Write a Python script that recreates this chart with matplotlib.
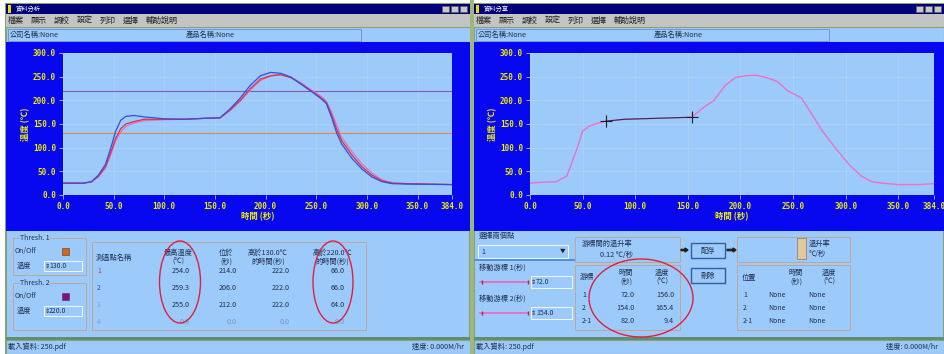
import matplotlib
matplotlib.use("Agg")
import matplotlib.pyplot as plt
from matplotlib.patches import Rectangle, Ellipse, FancyArrow

plt.rcParams['font.family'] = ['Noto Sans CJK TC', 'DejaVu Sans']

# ---------------- data ----------------
t1 = [0, 20, 28, 35, 42, 48, 52, 57, 62, 70, 80, 100, 120, 140, 155, 165, 175, 185,
      195, 205, 215, 225, 235, 245, 255, 260, 265, 270, 275, 285, 295, 305, 315, 325, 340, 384]
red = [25, 25, 28, 40, 60, 95, 120, 140, 150, 155, 160, 160, 160, 162, 163, 180, 200, 225,
       245, 252, 254, 248, 235, 220, 205, 195, 170, 140, 115, 85, 60, 42, 30, 25, 24, 22]
blue = [25, 25, 28, 42, 65, 105, 135, 158, 166, 168, 165, 161, 160, 162, 163, 182, 205, 232,
        252, 259, 257, 249, 234, 219, 203, 193, 165, 132, 108, 78, 55, 38, 28, 24, 23, 22]
pink = [25, 25, 27, 38, 57, 90, 115, 133, 145, 152, 157, 159, 160, 162, 163, 178, 198, 222,
        242, 251, 255, 249, 237, 222, 208, 198, 176, 148, 122, 92, 66, 46, 32, 26, 24, 22]
thresh_low = 130.0
thresh_high = 220.0

t2 = [0, 12, 25, 35, 45, 50, 56, 62, 72, 90, 120, 150, 155, 165, 175, 185, 195, 205, 215,
      225, 235, 245, 258, 268, 278, 290, 303, 315, 325, 335, 350, 370, 384]
curve2 = [25, 27, 28, 40, 100, 135, 145, 150, 156, 160, 162, 164, 167, 185, 200, 230, 248,
          252, 253, 248, 240, 220, 205, 170, 135, 100, 65, 40, 28, 25, 22, 22, 24]
cursor_t = [72.0, 154.0]
cursor_v = [156.0, 165.4]

xticks = [0, 50, 100, 150, 200, 250, 300, 350, 384]
xtick_labels = ["0.0", "50.0", "100.0", "150.0", "200.0", "250.0", "300.0", "350.0", "384.0"]
yticks = [0, 50, 100, 150, 200, 250, 300]
ytick_labels = ["0.0", "50.0", "100.0", "150.0", "200.0", "250.0", "300.0"]

table_header = ["測溫點名稱", "最高溫度\n(℃)", "位於\n(秒)", "高於130.0℃\n的時間(秒)", "高於220.0℃\n的時間(秒)"]
row_ids = ["1", "2", "3", "4"]
max_temp = ["254.0", "259.3", "255.0", "0.0"]
max_at = ["214.0", "206.0", "212.0", "0.0"]
above130 = ["222.0", "222.0", "222.0", "0.0"]
above220 = ["66.0", "66.0", "64.0", "0.0"]

cur_rows = ["1", "2", "2-1"]
cur_time = ["72.0", "154.0", "82.0"]
cur_temp = ["156.0", "165.4", "9.4"]

menu_items = ["檔案", "顯示", "調校", "設定", "列印", "選擇", "輔助說明"]

# ---------------- colours ----------------
NAVY = "#00007a"
BLUE = "#0808f0"
LIGHT = "#9ccafa"
GREY = "#c4c4c4"
BORDER = "#8aa27a"
YEL = "#f0f000"
TXT = "#203050"

fig = plt.figure(figsize=(9.44, 3.54), dpi=100)
bg = fig.add_axes([0, 0, 1, 1])
bg.set_xlim(0, 944)
bg.set_ylim(354, 0)
bg.axis("off")


def rect(x0, y0, x1, y1, fc="none", ec="none", lw=0.8, z=1):
    bg.add_patch(Rectangle((x0, y0), x1 - x0, y1 - y0, facecolor=fc, edgecolor=ec, lw=lw, zorder=z))


def txt(x, y, s, size=5.5, color=TXT, ha="left", va="center", **kw):
    bg.text(x, y, s, fontsize=size, color=color, ha=ha, va=va, zorder=5, **kw)


rect(0, 0, 944, 354, fc="white")

for ox, title, x1 in [(6, "資料分析", 470), (474, "資料分享", 944)]:
    rect(ox, 4, x1, 354, fc=LIGHT, ec=BORDER, lw=1.5)
    # title bar
    rect(ox, 4, x1, 14, fc=NAVY)
    rect(ox + 2, 5, ox + 5, 13, fc="#f0e000")
    txt(ox + 10, 9, title, size=4.5, color="white")
    for i in range(3):
        rect(x1 - 28 + i * 9, 6, x1 - 21 + i * 9, 12, fc="#c8c8c8", ec="#606060", lw=0.5)
    # menu bar
    rect(ox, 14, x1, 27, fc=GREY)
    mx = ox + 2
    for m in menu_items:
        txt(mx, 20.5, m, size=5.8, color="#202020")
        mx += 23 if len(m) == 2 else 40
    # company row
    rect(ox, 27, x1, 42, fc=LIGHT, ec=BORDER, lw=0.8)
    rect(ox + 2, 29, ox + 355, 41, fc="none", ec="#7090c0", lw=0.6)
    txt(ox + 4, 35, "公司名稱:None", size=5.2)
    txt(ox + 180, 35, "產品名稱:None", size=5.2)
    # blue chart area
    rect(ox, 42, x1, 231, fc=BLUE)
    # status bar
    rect(ox, 337, x1, 340, fc="#5f8f6f")
    rect(ox, 340, x1, 354, fc=LIGHT, ec=BORDER, lw=0.8)
    txt(ox + 2, 347, "載入資料: 250.pdf", size=5.2)
    txt(x1 - 6, 347, "速度: 0.000M/hr", size=5.2, ha="right")

rect(470, 0, 474, 354, fc="#9cb87a")

# ---------------- charts ----------------
def make_chart(rect_frac):
    ax = fig.add_axes(rect_frac, facecolor=LIGHT, zorder=3)
    ax.set_xlim(0, 384)
    ax.set_ylim(0, 300)
    ax.set_xticks(xticks)
    ax.set_xticklabels(xtick_labels, family="DejaVu Sans Mono", fontsize=5.5, color=YEL, fontweight="bold")
    ax.set_yticks(yticks)
    ax.set_yticklabels(ytick_labels, family="DejaVu Sans Mono", fontsize=5.5, color=YEL, fontweight="bold")
    ax.tick_params(colors="#c0c0c0", length=3, width=0.6, pad=2)
    for lab in ax.get_xticklabels() + ax.get_yticklabels():
        lab.set_color(YEL)
    for s in ax.spines.values():
        s.set_visible(False)
    ax.grid(True, color="#b4d4f4", lw=0.5)
    ax.set_axisbelow(True)
    ax.set_xlabel("時間 (秒)", color=YEL, fontsize=6, fontweight="bold", labelpad=1)
    ax.set_ylabel("溫度 (℃)", color=YEL, fontsize=6, fontweight="bold", labelpad=2)
    return ax


axL = make_chart([63 / 944, 1 - 195 / 354, 389 / 944, 142 / 354])
axL.axhline(thresh_high, color="#8a5aa8", lw=0.8)
axL.axhline(thresh_low, color="#e8884a", lw=0.8)
axL.plot(t1, pink, color="#e070c0", lw=0.9)
axL.plot(t1, red, color="#e03040", lw=0.9)
axL.plot(t1, blue, color="#3050e0", lw=0.9)

axR = make_chart([530 / 944, 1 - 195 / 354, 404 / 944, 142 / 354])
axR.plot(t2, curve2, color="#f070c8", lw=1.0)
seg_t = [x for x in t2 if cursor_t[0] <= x <= cursor_t[1]]
seg_v = [curve2[t2.index(x)] for x in seg_t]
axR.plot(seg_t, seg_v, color="#303050", lw=0.8)
axR.plot(cursor_t, cursor_v, "+", color="#202020", ms=9, mew=0.8)

# ---------------- left bottom panel ----------------
for (y0, y1, name, col, val) in [(238, 275, "Thresh. 1", "#e06010", "130.0"),
                                 (283, 330, "Thresh. 2", "#8a0a8a", "220.0")]:
    rect(13, y0, 86, y1, ec="#c8a080", lw=0.6)
    bg.text(20, y0, name, fontsize=5, color=TXT, va="center", zorder=6,
            bbox=dict(fc=LIGHT, ec="none", pad=0.3))
    txt(15, y0 + 13, "On/Off", size=5)
    rect(62, y0 + 10, 69, y0 + 17, fc=col, ec="#404040", lw=0.4)
    txt(17, y0 + 28, "溫度", size=5.2)
    rect(44, y0 + 23, 82, y0 + 33, fc=LIGHT, ec="#ffffff", lw=0.6)
    txt(49, y0 + 28, val, size=5)
    txt(45, y0 + 28, "⇕", size=4.5, color="#202020")

rect(92, 242, 366, 330, ec="#c8a080", lw=0.6)
txt(96, 258, table_header[0], size=5.2)
hx = [178, 226, 268, 332]
for x, h in zip(hx, table_header[1:]):
    txt(x, 257, h, size=5.2, ha="center", linespacing=1.1)
row_cols = ["#e03040", "#3050e0", "#a890b8", "#88a4c8"]
for i, rid in enumerate(row_ids):
    y = 271 + i * 17
    c = TXT if i < 3 else "#7898c0"
    txt(97, y, rid, size=5, color=row_cols[i])
    txt(190, y, max_temp[i], size=5.2, color=c, ha="right")
    txt(237, y, max_at[i], size=5.2, color=c, ha="right")
    txt(290, y, above130[i], size=5.2, color=c, ha="right")
    txt(345, y, above220[i], size=5.2, color=c, ha="right")
bg.add_patch(Ellipse((180, 282), 41, 82, fc="none", ec="#e02040", lw=1.0, zorder=6))
bg.add_patch(Ellipse((333, 282), 40, 82, fc="none", ec="#e02040", lw=1.0, zorder=6))

# ---------------- right bottom panel ----------------
txt(479, 236, "選擇兩個點", size=5.2)
rect(478, 245, 568, 258, fc=LIGHT, ec="#ffffff", lw=0.6)
txt(481, 251.5, "1", size=5)
txt(563, 251.5, "▼", size=4, color="#202020", ha="center")
rect(474, 259, 575, 260.5, fc="#5090e0")
for (yy, lab, val) in [(268, "移動游標 1(秒)", "72.0"), (299, "移動游標 2(秒)", "154.0")]:
    txt(479, yy, lab, size=5.2)
    bg.plot([480, 528], [yy + 14, yy + 14], color="#f060c0", lw=1.2, zorder=5)
    bg.plot([482, 528], [yy + 14, yy + 14], "|", color="#c02040", ms=3, zorder=5)
    rect(531, yy + 8, 572, yy + 20, fc=LIGHT, ec="#ffffff", lw=0.6)
    txt(531, yy + 14, "⇕", size=4.5, color="#202020")
    txt(536, yy + 14, val, size=5)

rect(575, 237, 680, 262, ec="#c8a080", lw=0.6)
txt(582, 244, "游標間的溫升率", size=5.2)
txt(600, 255, "0.12 ℃/秒", size=5.2)
bg.add_patch(FancyArrow(681, 250, 7, 0, width=1.2, head_width=4, head_length=3,
                        length_includes_head=True, color="#202020", zorder=5))
rect(691, 243, 725, 258, fc=LIGHT, ec="#3060a0", lw=1.0)
txt(708, 250.5, "配存", size=5.2, ha="center")
bg.add_patch(FancyArrow(727, 250, 9, 0, width=1.2, head_width=4, head_length=3,
                        length_includes_head=True, color="#202020", zorder=5))
rect(737, 237, 850, 262, ec="#c8a080", lw=0.6)
rect(797, 238, 806, 259, fc="#e0c8a0", ec="#a08060", lw=0.6)
txt(809, 244, "溫升率", size=5.2)
txt(809, 254, "℃/秒", size=5.2)

rect(575, 265, 680, 330, ec="#c8a080", lw=0.6)
txt(580, 277, "游標", size=5.2)
txt(626, 277, "時間\n(秒)", size=5.2, ha="center", linespacing=1.1)
txt(662, 277, "溫度\n(℃)", size=5.2, ha="center", linespacing=1.1)
for i, r in enumerate(cur_rows):
    y = 295 + i * 13
    txt(582, y, r, size=5)
    txt(635, y, cur_time[i], size=5.2, ha="right")
    txt(674, y, cur_temp[i], size=5.2, ha="right")
rect(691, 268, 725, 283, fc=LIGHT, ec="#3060a0", lw=1.0)
txt(708, 275.5, "刪除", size=5.2, ha="center")

rect(737, 265, 850, 330, ec="#c8a080", lw=0.6)
txt(742, 278, "位置", size=5.2)
txt(796, 277, "時間\n(秒)", size=5.2, ha="center", linespacing=1.1)
txt(829, 277, "溫度\n(℃)", size=5.2, ha="center", linespacing=1.1)
for i, r in enumerate(cur_rows):
    y = 295 + i * 13
    txt(743, y, r, size=5)
    txt(768, y, "None", size=5)
    txt(808, y, "None", size=5)
bg.add_patch(Ellipse((641, 298), 104, 78, fc="none", ec="#e02040", lw=1.0, zorder=6))

fig.savefig("out.png", dpi=100)
